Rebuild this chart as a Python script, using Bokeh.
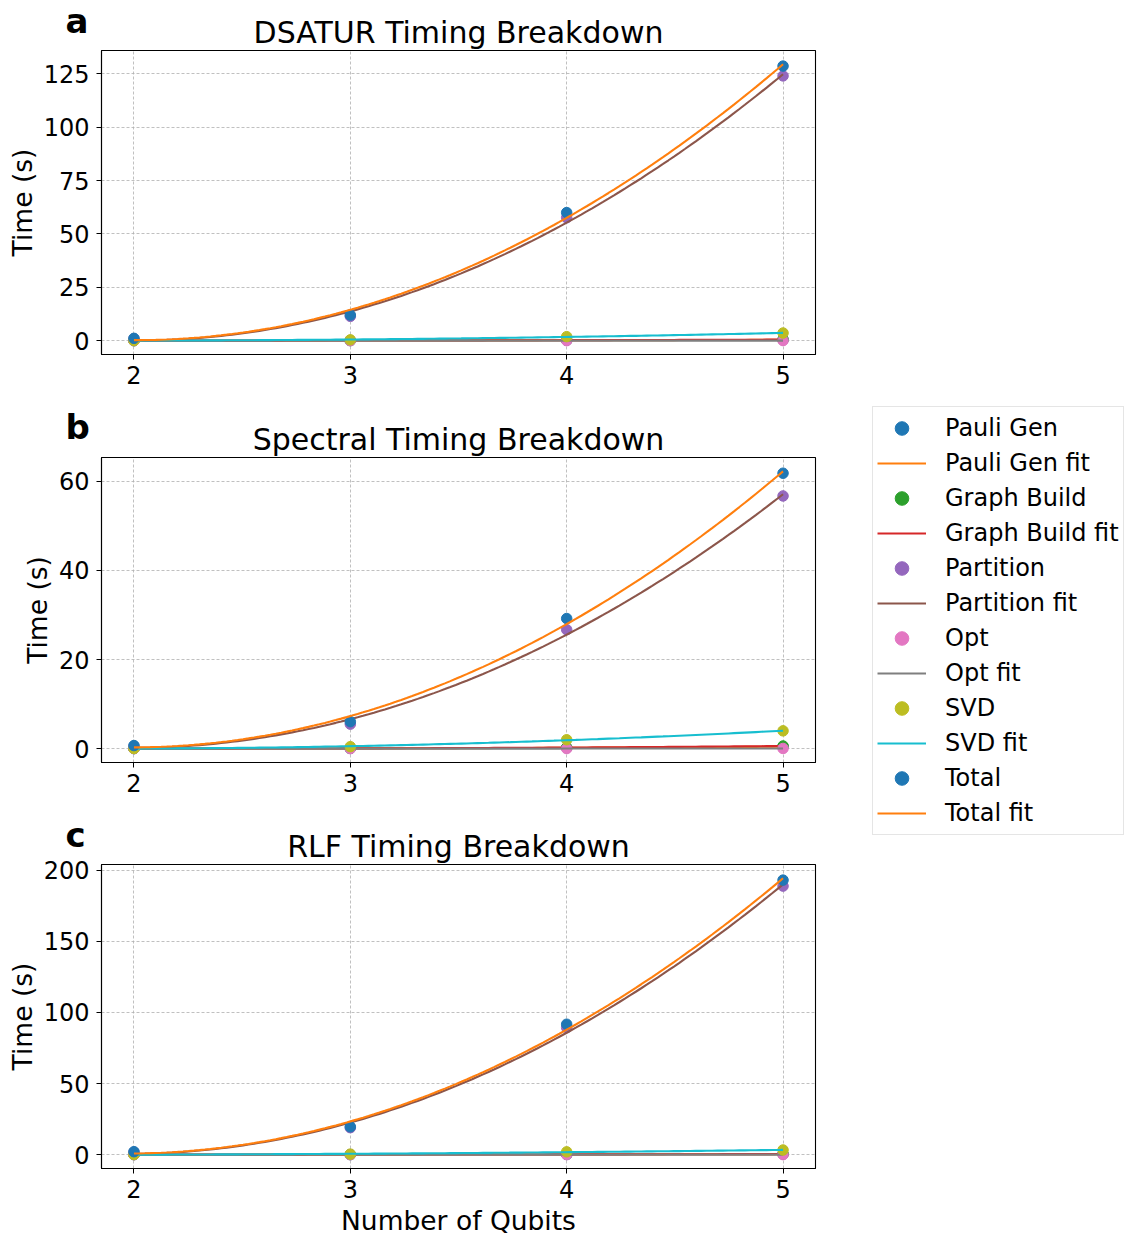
import numpy as np
from bokeh.plotting import figure
from bokeh.layouts import row, column
from bokeh.models import Range1d, FixedTicker, Legend, LegendItem, Label
from bokeh.embed import file_html
from bokeh.resources import INLINE

# ---------------- data ----------------
qubits = [2, 3, 4, 5]
x_ticks = [2, 3, 4, 5]

component_names = ["Pauli Gen", "Graph Build", "Partition", "Opt", "SVD", "Total"]
point_colors = ["#1f77b4", "#2ca02c", "#9467bd", "#e377c2", "#bcbd22", "#1f77b4"]
fit_colors = ["#ff7f0e", "#d62728", "#8c564b", "#7f7f7f", "#17becf", "#ff7f0e"]

# DSATUR
dsatur_pauli = [0.02, 0.06, 0.2, 0.4]
dsatur_graph = [0.03, 0.08, 0.25, 0.5]
dsatur_partition = [0.9, 11.4, 57.6, 124.0]
dsatur_opt = [0.01, 0.01, 0.02, 0.05]
dsatur_svd = [0.1, 0.4, 1.9, 3.6]
dsatur_total = [1.1, 12.0, 60.0, 128.6]
dsatur_yticks = [0, 25, 50, 75, 100, 125]

# Spectral
spectral_pauli = [0.02, 0.05, 0.2, 0.45]
spectral_graph = [0.03, 0.06, 0.25, 0.6]
spectral_partition = [0.55, 5.5, 26.7, 56.7]
spectral_opt = [0.01, 0.01, 0.02, 0.05]
spectral_svd = [0.05, 0.45, 2.0, 4.0]
spectral_total = [0.7, 6.06, 29.2, 61.8]
spectral_yticks = [0, 20, 40, 60]

# RLF
rlf_pauli = [0.05, 0.08, 0.15, 0.4]
rlf_graph = [0.1, 0.1, 0.2, 0.45]
rlf_partition = [1.8, 19.0, 89.3, 188.8]
rlf_opt = [0.01, 0.01, 0.03, 0.05]
rlf_svd = [0.1, 0.4, 2.0, 3.3]
rlf_total = [2.1, 19.6, 91.7, 193.0]
rlf_yticks = [0, 50, 100, 150, 200]

titles = ["DSATUR Timing Breakdown", "Spectral Timing Breakdown", "RLF Timing Breakdown"]
letters = ["a", "b", "c"]

FONT = "DejaVu Sans"
LEFT = 101
FRAME_W = 714
RIGHT = 20
COL_W = LEFT + FRAME_W + RIGHT
TOTAL_W = 1129
TOTAL_H = 1236


def make_strip(title, letter, h, title_y, letter_y):
    """Header strip holding the panel letter and the panel title."""
    s = figure(width=COL_W, height=h, x_range=Range1d(0, COL_W), y_range=Range1d(0, h),
               toolbar_location=None, output_backend="svg",
               x_axis_location=None, y_axis_location=None, min_border=0)
    s.frame_align = False
    s.outline_line_color = None
    s.grid.visible = False
    s.add_layout(Label(x=LEFT + FRAME_W / 2, y=title_y, text=title,
                       text_font=FONT, text_font_size="30px", text_color="black",
                       text_align="center", text_baseline="alphabetic"))
    s.add_layout(Label(x=LEFT - 36, y=letter_y, text=letter,
                       text_font=FONT, text_font_size="34px", text_font_style="bold",
                       text_color="black", text_align="left", text_baseline="alphabetic"))
    return s


def make_panel(series, yticks, frame_h, top, bottom, xlabel=None):
    xs_fit = np.linspace(qubits[0], qubits[-1], 120)
    fits = []
    allv = []
    for vals in series:
        coef = np.polyfit(qubits, vals, 2)
        yf = np.polyval(coef, xs_fit)
        fits.append(yf)
        allv.extend(vals)
        allv.extend(list(yf))
    ymin, ymax = min(allv), max(allv)
    pad = 0.05 * (ymax - ymin)
    y0, y1 = ymin - pad, ymax + pad
    x0, x1 = 2 - 0.15, 5 + 0.15

    p = figure(frame_width=FRAME_W, frame_height=frame_h,
               min_border_left=LEFT, min_border_right=RIGHT,
               min_border_top=top, min_border_bottom=bottom,
               x_range=Range1d(x0, x1), y_range=Range1d(y0, y1),
               toolbar_location=None, output_backend="svg")

    p.outline_line_color = "black"
    p.outline_line_width = 1.1
    p.outline_line_alpha = 1.0

    p.xaxis.ticker = FixedTicker(ticks=x_ticks)
    p.yaxis.ticker = FixedTicker(ticks=yticks)
    for ax in (p.xaxis, p.yaxis):
        ax.axis_line_color = "black"
        ax.axis_line_width = 1.1
        ax.major_tick_line_color = "black"
        ax.major_tick_out = 5
        ax.major_tick_in = 0
        ax.minor_tick_line_color = None
        ax.major_label_text_font = FONT
        ax.major_label_text_font_size = "24px"
        ax.major_label_text_color = "black"
        ax.axis_label_text_font = FONT
        ax.axis_label_text_font_size = "26.5px"
        ax.axis_label_text_font_style = "normal"
        ax.axis_label_text_color = "black"
    p.yaxis.major_label_standoff = 7
    p.yaxis.axis_label_standoff = 3
    p.xaxis.major_label_standoff = 6
    p.xaxis.axis_label_standoff = 4
    p.yaxis.axis_label = "Time (s)"
    if xlabel:
        p.xaxis.axis_label = xlabel

    p.xgrid.ticker = FixedTicker(ticks=x_ticks)
    p.ygrid.ticker = FixedTicker(ticks=yticks)
    p.grid.grid_line_color = "#b0b0b0"
    p.grid.grid_line_dash = "3 2"
    p.grid.grid_line_width = 0.8

    for vals, yf, pc, fc in zip(series, fits, point_colors, fit_colors):
        p.scatter(qubits, vals, size=10.5, color=pc, line_color=pc)
        p.line(xs_fit, yf, line_color=fc, line_width=2.1)
    return p


sa = make_strip(titles[0], letters[0], 49, 17.4, 28.8)
pa = make_panel([dsatur_pauli, dsatur_graph, dsatur_partition, dsatur_opt, dsatur_svd, dsatur_total],
                dsatur_yticks, 304, 1, 51)
sb = make_strip(titles[1], letters[1], 51, 17.4, 29.5)
pb = make_panel([spectral_pauli, spectral_graph, spectral_partition, spectral_opt, spectral_svd, spectral_total],
                spectral_yticks, 305, 1, 50)
# strip c is taller; panel c is pulled up over its lower part (transparent border)
sc = make_strip(titles[2], letters[2], 60, 26.4, 37.8)
pc_ = make_panel([rlf_pauli, rlf_graph, rlf_partition, rlf_opt, rlf_svd, rlf_total],
                 rlf_yticks, 304, 9, 68, xlabel="Number of Qubits")
pc_.border_fill_alpha = 0
pc_.margin = (-17, 0, 0, 0)

# legend panel
LEG_W = TOTAL_W - COL_W
fl = figure(width=LEG_W, height=TOTAL_H, toolbar_location=None, output_backend="svg",
            x_range=Range1d(0, 1), y_range=Range1d(0, 1),
            x_axis_location=None, y_axis_location=None, min_border=0)
fl.frame_align = False
fl.outline_line_color = None
fl.grid.visible = False
items = []
for name, pcol, fcol in zip(component_names, point_colors, fit_colors):
    r1 = fl.scatter(x=[-5], y=[-5], size=10, color=pcol)
    r2 = fl.line(x=[-5, -4], y=[-5, -4], line_color=fcol, line_width=2.1)
    items.append(LegendItem(label=name, renderers=[r1]))
    items.append(LegendItem(label=name + " fit", renderers=[r2]))
LEG_H = 12 * 34 + 11 * 1 + 2 * 4
legend = Legend(items=items, location=(37, TOTAL_H - 408 - LEG_H),
                label_text_font=FONT, label_text_font_size="24px", label_text_color="black",
                glyph_width=49, glyph_height=34, label_height=34,
                label_standoff=19, spacing=1, padding=4, margin=0,
                border_line_color="#cccccc", border_line_width=1,
                background_fill_alpha=0.8)
fl.add_layout(legend)

layout = row(column(sa, pa, sb, pb, sc, pc_), fl)
open("out.html", "w").write(file_html(layout, INLINE))
